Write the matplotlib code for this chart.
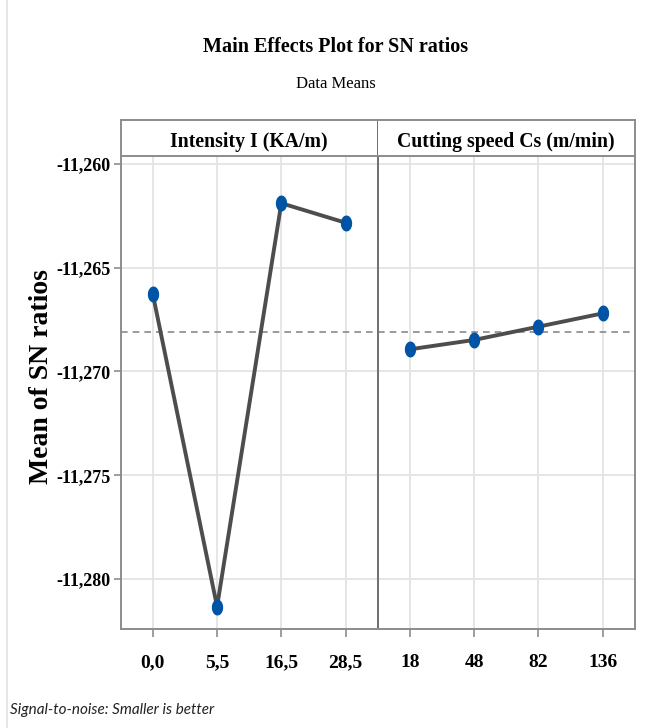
import numpy as np
import matplotlib
matplotlib.use("Agg")
import matplotlib.pyplot as plt
from matplotlib.ticker import FuncFormatter

# ---- data ----
intensity_levels = ["0,0", "5,5", "16,5", "28,5"]
intensity_means = [-11.26628, -11.28133, -11.26189, -11.26283]
speed_levels = ["18", "48", "82", "136"]
speed_means = [-11.26893, -11.26848, -11.26784, -11.26720]
panel_titles = ["Intensity I (KA/m)", "Cutting speed Cs (m/min)"]
y_ticks = [-11.260, -11.265, -11.270, -11.275, -11.280]

overall_mean = np.mean(intensity_means + speed_means)

SERIF = ["Liberation Serif", "DejaVu Serif"]
LINE_C = "#4d4d4d"
MARK_C = "#0054a6"
GRID_C = "#e4e4e4"
SPINE_C = "#8c8c8c"

# tall ellipse marker
t = np.linspace(0, 2 * np.pi, 40)
ell = np.column_stack([0.68 * np.cos(t), np.sin(t)])

W, H = 658, 728
fig = plt.figure(figsize=(W / 100, H / 100), dpi=100)

x0, x_mid, x1 = 120.7, 377.7, 634.7
y_top, y_bot, y_strip = 155.7, 629.0, 120.0

def fx(px):
    return px / W

def fy(py):
    return 1 - py / H

fmt = FuncFormatter(lambda v, p: f"{v:.3f}".replace(".", ","))

panels = [(intensity_levels, intensity_means), (speed_levels, speed_means)]
lefts = [x0, x_mid]
axes = []
for i, ((levels, means), lx) in enumerate(zip(panels, lefts)):
    ax = fig.add_axes([fx(lx), fy(y_bot), fx(257), (y_bot - y_top) / H])
    xs = np.arange(len(levels))
    ax.plot(xs, means, color=LINE_C, lw=2.8, zorder=3, solid_capstyle="butt")
    ax.plot(xs, means, ls="none", marker=ell, ms=10.5, color=MARK_C,
            mec=MARK_C, zorder=4)
    ax.axhline(overall_mean, color="#8a8a8a", lw=1.2, ls=(0, (4, 3)), zorder=2)
    ax.set_xlim(-0.5, len(levels) - 0.5)
    ax.set_ylim(-11.28241, -11.25960)
    ax.set_xticks(xs)
    ax.set_xticklabels(levels, fontfamily=SERIF, fontweight="bold", fontsize=14)
    ax.set_yticks(y_ticks)
    ax.yaxis.set_major_formatter(fmt)
    ax.grid(True, color=GRID_C, lw=1.3, zorder=0)
    ax.set_axisbelow(True)
    for s in ax.spines.values():
        s.set_color(SPINE_C)
        s.set_linewidth(1.4)
    ax.spines["top"].set_visible(False)
    ax.tick_params(axis="x", length=6, width=1.2, color=SPINE_C, pad=12)
    ax.tick_params(axis="y", length=5, width=1.2, color=SPINE_C, pad=2)
    if i == 0:
        for lab in ax.get_yticklabels():
            lab.set_fontfamily(SERIF)
            lab.set_fontweight("bold")
            lab.set_fontsize(13)
        ax.spines["right"].set_visible(False)
    else:
        ax.tick_params(axis="y", left=False, labelleft=False)
        ax.spines["left"].set_color("#6f6f6f")
    axes.append(ax)

    sax = fig.add_axes([fx(lx), fy(y_top), fx(257), (y_top - y_strip) / H])
    sax.set_xticks([])
    sax.set_yticks([])
    for s in sax.spines.values():
        s.set_color(SPINE_C)
        s.set_linewidth(1.4)
    if i == 0:
        sax.spines["right"].set_color("#6f6f6f")
    else:
        sax.spines["left"].set_visible(False)
    sax.text(0.5, 0.38, panel_titles[i], ha="center", va="center",
             fontfamily=SERIF, fontweight="bold", fontsize=14.2,
             transform=sax.transAxes)

fig.text(fx(336), fy(47), "Main Effects Plot for SN ratios", ha="center",
         va="center", fontfamily=SERIF, fontweight="bold", fontsize=14.5)
fig.text(fx(336), fy(84), "Data Means", ha="center", va="center",
         fontfamily=SERIF, fontsize=12)
fig.text(fx(42), fy(377), "Mean of SN ratios", rotation=90, ha="center",
         va="center", fontfamily=SERIF, fontweight="bold", fontsize=20)
fig.text(fx(10), fy(710), "Signal-to-noise: Smaller is better", ha="left",
         va="center", fontfamily=["Lato", "DejaVu Sans"], fontstyle="italic",
         fontsize=11, color="#222222")

fig.add_artist(plt.Line2D([fx(7), fx(7)], [0, 1], color="#e0e0e0", lw=1.2,
                          transform=fig.transFigure))

fig.savefig("out.png", dpi=100)
